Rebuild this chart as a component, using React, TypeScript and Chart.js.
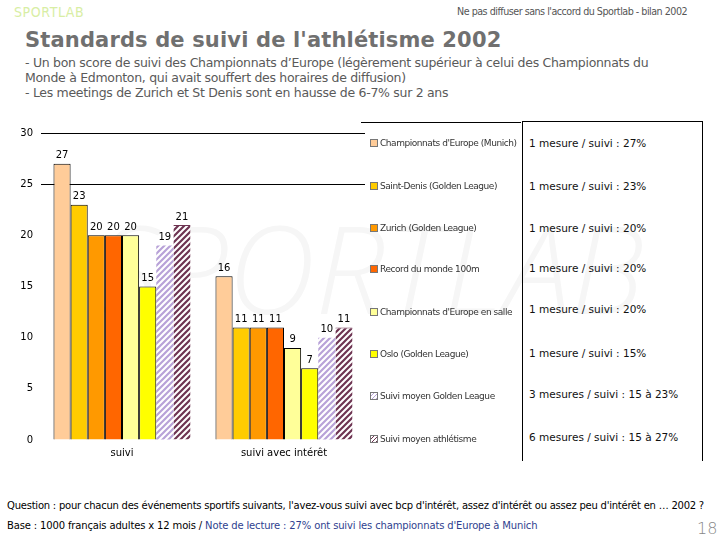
import React, { useEffect, useRef } from "react";
import { Chart, registerables } from "chart.js";

Chart.register(...registerables);

const categories = ["suivi", "suivi avec intérêt"];
const seriesNames = [
  "Championnats d'Europe (Munich)",
  "Saint-Denis (Golden League)",
  "Zurich (Golden League)",
  "Record du monde 100m",
  "Championnats d'Europe en salle",
  "Oslo (Golden League)",
  "Suivi moyen Golden League",
  "Suivi moyen athlétisme",
];
const munich = [27, 16];
const saintDenis = [23, 11];
const zurich = [20, 11];
const recordMonde = [20, 11];
const europeSalle = [20, 9];
const oslo = [15, 7];
const moyenGoldenLeague = [19, 10];
const moyenAthletisme = [21, 11];
const seriesValues = [munich, saintDenis, zurich, recordMonde, europeSalle, oslo, moyenGoldenLeague, moyenAthletisme];
const seriesColors = ["#FFCC99", "#FFCC00", "#FF9900", "#FF6600", "#FFFF99", "#FFFF00", "#B8A2D8", "#6E3452"];
const hatched = [false, false, false, false, false, false, true, true];
const measureNotes = [
  "1 mesure / suivi : 27%",
  "1 mesure / suivi : 23%",
  "1 mesure / suivi : 20%",
  "1 mesure / suivi : 20%",
  "1 mesure / suivi : 20%",
  "1 mesure / suivi : 15%",
  "3 mesures / suivi : 15 à 23%",
  "6 mesures / suivi : 15 à 27%",
];
const yMin = 0;
const yMax = 30;
const yStep = 5;
const gridTicks = [30, 25];

const legendY = [144, 187, 229, 270, 313, 355, 397, 440];
const noteY = [144, 187, 229, 269, 310, 354, 395, 438];

function makeHatch(color: string): CanvasPattern | string {
  const c = document.createElement("canvas");
  c.width = 6;
  c.height = 6;
  const x = c.getContext("2d");
  if (!x) return color;
  x.fillStyle = "#ffffff";
  x.fillRect(0, 0, 6, 6);
  x.strokeStyle = color;
  x.lineWidth = 2.2;
  x.beginPath();
  x.moveTo(-1, 7);
  x.lineTo(7, -1);
  x.moveTo(-4, 4);
  x.lineTo(4, -4);
  x.moveTo(2, 10);
  x.lineTo(10, 2);
  x.stroke();
  const p = x.createPattern(c, "repeat");
  return p || color;
}

const labelPlugin = {
  id: "valueLabels",
  afterDatasetsDraw(chart: any) {
    const ctx = chart.ctx;
    ctx.save();
    ctx.font = "10px 'DejaVu Sans'";
    ctx.fillStyle = "#000";
    ctx.textAlign = "center";
    ctx.textBaseline = "bottom";
    chart.data.datasets.forEach((ds: any, i: number) => {
      const meta = chart.getDatasetMeta(i);
      meta.data.forEach((el: any, j: number) => {
        ctx.fillText(String(ds.data[j]), el.x, el.y - 3);
      });
    });
    ctx.restore();
  },
};

export default function App() {
  const ref = useRef<HTMLCanvasElement>(null);
  useEffect(() => {
    if (!ref.current) return;
    const datasets = seriesNames.map((name, i) => ({
      label: name,
      data: seriesValues[i],
      backgroundColor: hatched[i] ? makeHatch(seriesColors[i]) : seriesColors[i],
      borderColor: hatched[i] ? seriesColors[i] : "#000000",
      borderWidth: hatched[i] ? (i === 7 ? { top: 1, left: 0, right: 0, bottom: 0 } : 0) : 1,
      borderSkipped: "bottom" as const,
      categoryPercentage: 0.846,
      barPercentage: 1,
    }));
    const chart = new Chart(ref.current, {
      type: "bar",
      data: { labels: categories, datasets },
      plugins: [labelPlugin],
      options: {
        responsive: false,
        animation: false,
        layout: { padding: { top: 23, bottom: 10, left: 0, right: 0 } },
        plugins: { legend: { display: false }, tooltip: { enabled: false } },
        scales: {
          x: {
            grid: { display: false, drawTicks: false },
            border: { display: false },
            ticks: { color: "#000", font: { family: "'DejaVu Sans'", size: 10 }, padding: 7 },
            afterFit: (s: any) => {
              s.height = 20;
            },
          },
          y: {
            min: yMin,
            max: yMax,
            ticks: { stepSize: yStep, color: "#000", font: { family: "'DejaVu Sans'", size: 10 }, padding: 8 },
            grid: {
              drawTicks: false,
              color: (c: any) => (gridTicks.includes(c.tick?.value) ? "#000" : "rgba(0,0,0,0)"),
              lineWidth: 1,
            },
            border: { display: false },
            afterFit: (s: any) => {
              s.width = 41;
            },
          },
        },
      },
    });
    return () => chart.destroy();
  }, []);

  const base: React.CSSProperties = { position: "absolute", whiteSpace: "nowrap" };

  return (
    <div
      style={{
        position: "fixed",
        left: 0,
        top: 0,
        width: 720,
        height: 540,
        background: "#fff",
        overflow: "hidden",
        fontFamily: "'DejaVu Sans', sans-serif",
      }}
    >
      <div
        style={{
          ...base,
          left: 14,
          top: 4,
          fontFamily: "'Liberation Sans Narrow', 'DejaVu Sans Condensed', sans-serif",
          fontSize: 14,
          color: "#d8eea4",
          letterSpacing: 0.6,
        }}
      >
        SPORTLAB
      </div>
      <div style={{ ...base, left: 457, top: 6, fontSize: 9.6, color: "#555", letterSpacing: -0.5 }}>
        Ne pas diffuser sans l'accord du Sportlab - bilan 2002
      </div>
      <div style={{ ...base, left: 25, top: 28, fontSize: 21, fontWeight: "bold", color: "#707070", letterSpacing: 0.15 }}>
        Standards de suivi de l'athlétisme 2002
      </div>
      <div
        style={{
          position: "absolute",
          left: 25,
          top: 55,
          width: 690,
          fontSize: 12.5,
          lineHeight: "15px",
          color: "#5a5a5a",
          letterSpacing: -0.3,
          whiteSpace: "nowrap",
        }}
      >
        <div>- Un bon score de suivi des Championnats d’Europe (légèrement supérieur à celui des Championnats du</div>
        <div>Monde à Edmonton, qui avait souffert des horaires de diffusion)</div>
        <div>- Les meetings de Zurich et St Denis sont en hausse de 6-7% sur 2 ans</div>
      </div>

      <div
        style={{
          ...base,
          left: 98,
          top: 184,
          fontSize: 122,
          fontStyle: "italic",
          fontFamily: "'Open Sans', sans-serif",
          fontWeight: 300,
          color: "#f6f6f6",
          letterSpacing: 0,
        }}
      >
        SPORTLAB
      </div>

      <div style={{ position: "absolute", left: 0, top: 110, width: 365, height: 360 }}>
        <canvas ref={ref} width={365} height={360} />
      </div>

      <div style={{ position: "absolute", left: 361, top: 122, width: 160, height: 0, borderTop: "1px solid #000" }} />
      <div
        style={{
          position: "absolute",
          left: 522,
          top: 121,
          width: 179,
          height: 339,
          borderLeft: "1px solid #000",
          borderRight: "1px solid #000",
          borderTop: "1px solid #000",
        }}
      />

      {seriesNames.map((name, i) => (
        <div key={name} style={{ ...base, left: 370, top: legendY[i] - 7, fontSize: 9, color: "#333", letterSpacing: -0.45 }}>
          <span
            style={{
              display: "inline-block",
              width: 6,
              height: 6,
              marginRight: 2,
              border: "1px solid #777",
              background: hatched[i]
                ? `repeating-linear-gradient(-45deg, ${seriesColors[i]} 0 1px, #fff 1px 3px)`
                : seriesColors[i],
              verticalAlign: "middle",
            }}
          />
          <span style={{ verticalAlign: "middle" }}>{name}</span>
        </div>
      ))}

      {measureNotes.map((t, i) => (
        <div key={i} style={{ ...base, left: 529, top: noteY[i] - 7, fontSize: 10.5, color: "#111" }}>
          {t}
        </div>
      ))}

      <div style={{ ...base, left: 7, top: 500, fontSize: 10, color: "#000", letterSpacing: -0.23 }}>
        Question : pour chacun des événements sportifs suivants, l'avez-vous suivi avec bcp d'intérêt, assez d'intérêt ou assez peu d'intérêt en … 2002 ?
      </div>
      <div style={{ ...base, left: 7, top: 520, fontSize: 10, color: "#000", letterSpacing: -0.15 }}>
        Base : 1000 français adultes x 12 mois / <span style={{ color: "#2f3f8f" }}>Note de lecture : 27% ont suivi les championnats d'Europe à Munich</span>
      </div>
      <div style={{ ...base, left: 697, top: 519, fontSize: 16, color: "#888", fontWeight: 300 }}>18</div>
    </div>
  );
}
